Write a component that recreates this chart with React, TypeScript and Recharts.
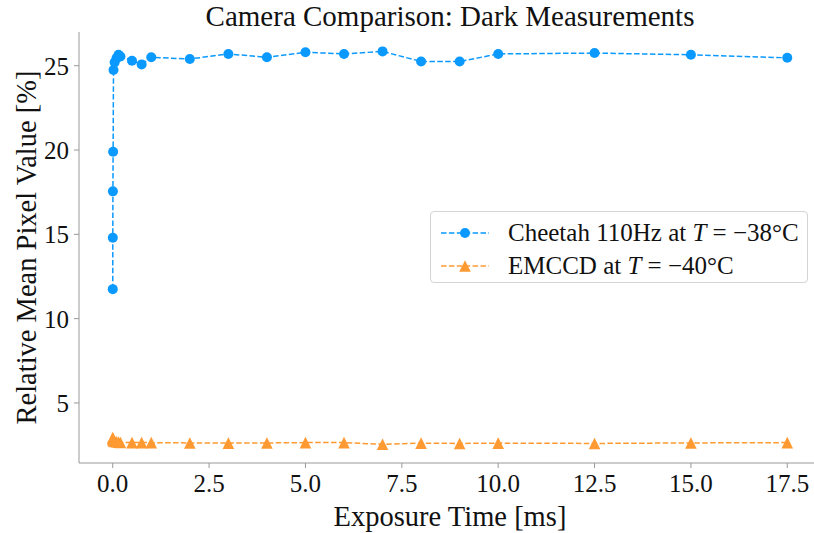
import React from "react";
import { LineChart, Line, XAxis, YAxis, Label } from "recharts";

// exposure times [ms] shared by both cameras
const exposures = [
  0.001, 0.002, 0.005, 0.01, 0.02, 0.05, 0.1, 0.15, 0.2, 0.5, 0.75, 1, 2, 3, 4, 5, 6, 7, 8, 9, 10,
  12.5, 15, 17.5,
];
const cheetahValues = [
  11.75, 14.8, 17.55, 19.9, 24.75, 25.2, 25.45, 25.65, 25.55, 25.3, 25.08, 25.5, 25.4, 25.7, 25.5,
  25.8, 25.7, 25.85, 25.25, 25.25, 25.7, 25.75, 25.65, 25.47,
];
const emccdValues = [
  2.95, 2.9, 2.85, 2.8, 2.75, 2.72, 2.7, 2.68, 2.66, 2.65, 2.65, 2.65, 2.63, 2.62, 2.63, 2.65, 2.65,
  2.55, 2.62, 2.6, 2.62, 2.6, 2.63, 2.65,
];
const xTicks = [0, 2.5, 5, 7.5, 10, 12.5, 15, 17.5];
const yTicks = [5, 10, 15, 20, 25];

const BLUE = "#0a99ff";
const ORANGE = "#ff9a33";
const AXIS = "#999999";
const FONT = "'Liberation Serif', 'DejaVu Serif', serif";
const DASH = "5.5 2.4";

const rows = exposures.map((t, i) => ({
  t,
  cheetah: cheetahValues[i],
  emccd: emccdValues[i],
}));

function Triangle(props: any) {
  const { cx, cy, key } = props;
  if (cx == null || cy == null) return null;
  const s = 5.8;
  return (
    <polygon
      key={key}
      points={`${cx},${cy - s} ${cx - s},${cy + s} ${cx + s},${cy + s}`}
      fill={ORANGE}
    />
  );
}

function Sample({ color, tri }: { color: string; tri?: boolean }) {
  return (
    <svg width={48} height={14} style={{ marginRight: 19, flex: "none" }}>
      <line x1={0} y1={7} x2={48} y2={7} stroke={color} strokeWidth={1.5} strokeDasharray={DASH} />
      {tri ? (
        <polygon points="24,1.2 18.2,12.8 29.8,12.8" fill={color} />
      ) : (
        <circle cx={24} cy={7} r={5} fill={color} />
      )}
    </svg>
  );
}

function Legende() {
  return (
    <div
      style={{
        position: "absolute",
        left: 430,
        top: 211,
        border: "1px solid #d4d4d4",
        borderRadius: 4,
        background: "#fff",
        width: 378,
        height: 72,
        boxSizing: "border-box",
        padding: "4px 0 0 10px",
        fontFamily: FONT,
        fontSize: 25,
        color: "#111",
      }}
    >
      <div style={{ display: "flex", alignItems: "center", height: 33 }}>
        <Sample color={BLUE} />
        <span>
          Cheetah 110Hz at <i>T</i> = −38°C
        </span>
      </div>
      <div style={{ display: "flex", alignItems: "center", height: 33 }}>
        <Sample color={ORANGE} tri />
        <span>
          EMCCD at <i>T</i> = −40°C
        </span>
      </div>
    </div>
  );
}

function YTitle(props: any) {
  const { viewBox } = props;
  const x = viewBox.x + 26;
  const y = viewBox.y + viewBox.height / 2;
  return (
    <text
      x={x}
      y={y}
      transform={`rotate(-90 ${x} ${y})`}
      textAnchor="middle"
      dominantBaseline="central"
      fill="#111"
      fontSize={28.5}
      fontFamily={FONT}
    >
      Relative Mean Pixel Value [%]
    </text>
  );
}

export default function App() {
  return (
    <div
      style={{
        position: "absolute",
        left: 0,
        top: 0,
        width: 814,
        height: 533,
        overflow: "hidden",
        background: "#fff",
      }}
    >
      <div
        style={{
          position: "absolute",
          left: 0,
          width: 900,
          top: 0,
          textAlign: "center",
          fontFamily: FONT,
          fontSize: 29,
          color: "#111",
        }}
      >
        Camera Comparison: Dark Measurements
      </div>
      <LineChart width={830} height={533} data={rows} margin={{ top: 32, right: 9, left: 0, bottom: 0 }}>
        <XAxis
          dataKey="t"
          type="number"
          domain={[-0.875, 18.375]}
          ticks={xTicks}
          allowDataOverflow
          tickFormatter={(v: number) => v.toFixed(1)}
          stroke={AXIS}
          tickSize={5}
          tickMargin={6}
          height={70}
          tick={{ fill: "#111", fontSize: 25, fontFamily: FONT }}
        >
          <Label
            value="Exposure Time [ms]"
            position="insideBottom"
            offset={7}
            style={{ fill: "#111", fontSize: 28.5, fontFamily: FONT }}
          />
        </XAxis>
        <YAxis
          type="number"
          domain={[1.44, 27.0]}
          ticks={yTicks}
          allowDataOverflow
          stroke={AXIS}
          tickSize={5}
          tickMargin={5}
          width={79}
          tick={{ fill: "#111", fontSize: 25, fontFamily: FONT }}
        >
          <Label content={(p: any) => <YTitle {...p} />} />
        </YAxis>
        <Line
          dataKey="cheetah"
          stroke={BLUE}
          strokeWidth={1.5}
          strokeDasharray={DASH}
          dot={{ r: 5, fill: BLUE, stroke: "none" }}
          isAnimationActive={false}
        />
        <Line
          dataKey="emccd"
          stroke={ORANGE}
          strokeWidth={1.5}
          strokeDasharray={DASH}
          dot={(p: any) => <Triangle {...p} />}
          isAnimationActive={false}
        />
      </LineChart>
      <Legende />
    </div>
  );
}
